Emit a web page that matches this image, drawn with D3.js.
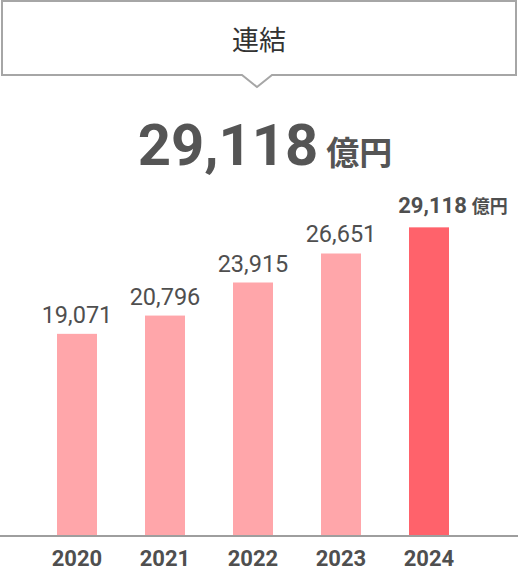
<!DOCTYPE html>
<html><head><meta charset="utf-8">
<script src="https://cdn.jsdelivr.net/npm/d3@7/dist/d3.min.js"></script>
<style>
html,body{margin:0;padding:0;background:#fff;}
svg{display:block;}
text{font-family:Roboto,"Noto Sans CJK JP",sans-serif;}
</style></head><body>
<script>
const years = ["2020","2021","2022","2023","2024"];
const values = [19071, 20796, 23915, 26651, 29118];
const unit = "億円";
const title = "連結";
const highlightIndex = 4;

const W = 518, H = 574;
const svg = d3.select("body").append("svg").attr("width", W).attr("height", H);

// title bubble
const bx0 = 2, bx1 = 516, by0 = 1, by1 = 75, cx = 257;
svg.append("path")
  .attr("d", `M${bx0},${by0}H${bx1}V${by1}H${cx+15}L${cx},${by1+12}L${cx-15},${by1}H${bx0}Z`)
  .attr("fill", "#fff").attr("stroke", "#a6a6a6").attr("stroke-width", 2);
svg.append("text").attr("x", cx+2).attr("y", 50).attr("text-anchor", "middle")
  .attr("font-size", 27).attr("fill", "#333").text(title);

// headline total
const head = svg.append("text").attr("x", 265).attr("y", 165).attr("text-anchor", "middle").attr("fill", "#555");
head.append("tspan").attr("font-size", 58).attr("font-weight", 700).text(d3.format(",")(values[highlightIndex]));
head.append("tspan").attr("font-size", 33).attr("font-weight", 700).attr("dx", 8).text(unit);

const x = d3.scaleBand().domain(years).range([33, 473]).paddingInner(48/88).paddingOuter(24/88);
const y = d3.scaleLinear().domain([0, 30000]).range([536, 218]);

svg.selectAll("rect.bar").data(values).join("rect")
  .attr("class", "bar")
  .attr("x", (d,i) => x(years[i]))
  .attr("width", x.bandwidth())
  .attr("y", d => y(d))
  .attr("height", d => y(0) - y(d))
  .attr("fill", (d,i) => i === highlightIndex ? "#ff626b" : "#ffa6aa");

// value labels
svg.selectAll("text.val").data(values).join("text")
  .attr("class", "val")
  .attr("x", (d,i) => x(years[i]) + x.bandwidth()/2 + (i === highlightIndex ? 24 : 0))
  .attr("y", (d,i) => y(d) - (i === highlightIndex ? 14 : 11))
  .attr("text-anchor", "middle")
  .attr("fill", "#4f4f4f")
  .each(function(d,i){
    const t = d3.select(this);
    if (i === highlightIndex) {
      t.append("tspan").attr("font-size", 22).attr("font-weight", 700).text(d3.format(",")(d));
      t.append("tspan").attr("font-size", 18).attr("font-weight", 700).attr("dx", 5).text(unit);
    } else {
      t.attr("font-size", 23.5).attr("font-weight", 400).text(d3.format(",")(d));
    }
  });

// axis
const axis = svg.append("g").attr("transform", `translate(0,${y(0)})`)
  .call(d3.axisBottom(x).tickSize(0).tickPadding(14));
axis.select(".domain").remove();
axis.append("line").attr("x1", 0).attr("x2", W).attr("y1", 0).attr("y2", 0)
  .attr("stroke", "#9e9e9e").attr("stroke-width", 2);
axis.selectAll(".tick text").attr("font-size", 22).attr("font-weight", 700)
  .attr("fill", "#4f4f4f").attr("font-family", "Roboto,sans-serif");
</script>
</body></html>
